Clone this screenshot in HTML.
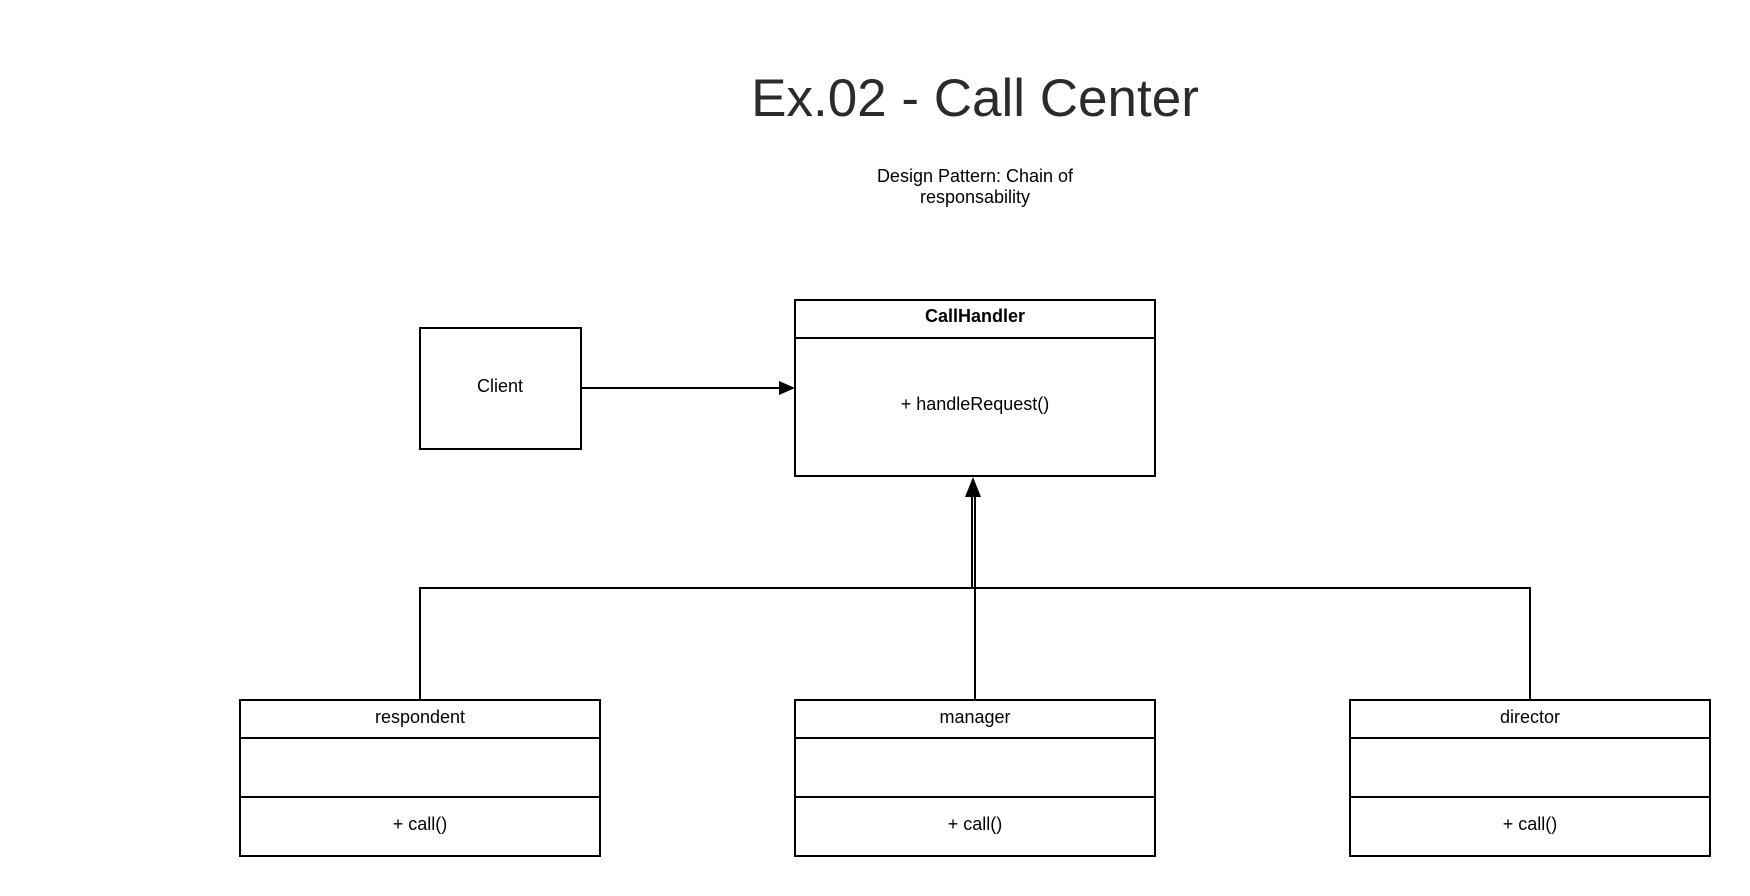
<!DOCTYPE html>
<html><head><meta charset="utf-8"><style>
html,body{margin:0;padding:0;background:#fff;}
svg{display:block;}
text{font-family:"Liberation Sans",Arial,sans-serif;fill:#000;}
</style></head><body>
<svg width="1750" height="896" viewBox="0 0 1750 896" xmlns="http://www.w3.org/2000/svg">
<text x="975" y="116" font-size="53" text-anchor="middle" style="fill:#282c30">Ex.02 - Call Center</text>
<text x="975" y="182" font-size="18" text-anchor="middle">Design Pattern: Chain of</text>
<text x="975" y="203" font-size="18" text-anchor="middle">responsability</text>
<g fill="none" stroke="#000" stroke-width="2">
<rect x="420" y="328" width="161" height="121"/>
<rect x="795" y="300" width="360" height="176"/>
<line x1="795" y1="338" x2="1155" y2="338"/>
<line x1="581" y1="388" x2="780" y2="388"/>
<rect x="240" y="700" width="360" height="156"/>
<line x1="240" y1="738" x2="600" y2="738"/>
<line x1="240" y1="797" x2="600" y2="797"/>
<rect x="795" y="700" width="360" height="156"/>
<line x1="795" y1="738" x2="1155" y2="738"/>
<line x1="795" y1="797" x2="1155" y2="797"/>
<rect x="1350" y="700" width="360" height="156"/>
<line x1="1350" y1="738" x2="1710" y2="738"/>
<line x1="1350" y1="797" x2="1710" y2="797"/>
<polyline points="420,700 420,588 1530,588 1530,700"/>
<line x1="975" y1="700" x2="975" y2="490"/>
<line x1="972" y1="588" x2="972" y2="490"/>
</g>
<polygon points="779,381 795,388 779,395" fill="#000"/>
<polygon points="973,477 965,497 981,497" fill="#000"/>
<text x="500" y="392" font-size="18" text-anchor="middle">Client</text>
<text x="975" y="322" font-size="18" font-weight="bold" text-anchor="middle">CallHandler</text>
<text x="975" y="410" font-size="18" text-anchor="middle">+ handleRequest()</text>
<text x="420" y="723" font-size="18" text-anchor="middle">respondent</text>
<text x="975" y="723" font-size="18" text-anchor="middle">manager</text>
<text x="1530" y="723" font-size="18" text-anchor="middle">director</text>
<text x="420" y="830" font-size="18" text-anchor="middle">+ call()</text>
<text x="975" y="830" font-size="18" text-anchor="middle">+ call()</text>
<text x="1530" y="830" font-size="18" text-anchor="middle">+ call()</text>
</svg>
</body></html>
